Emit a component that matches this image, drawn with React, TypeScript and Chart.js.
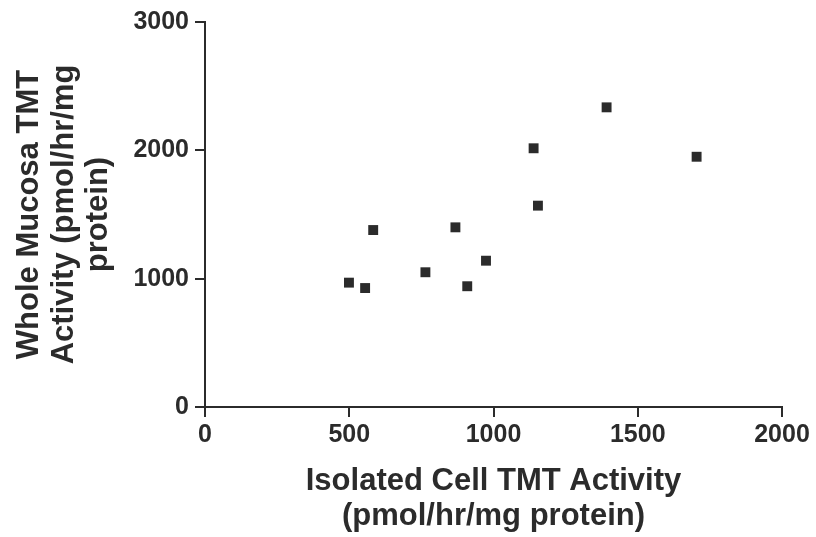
import React, { useEffect, useRef } from "react";
import { Chart, registerables } from "chart.js";

Chart.register(...registerables);

const isolatedCell: number[] = [499, 555, 583, 764, 868, 909, 974, 1139, 1154, 1392, 1704];
const wholeMucosa: number[] = [969, 927, 1379, 1050, 1400, 941, 1140, 2016, 1569, 2335, 1950];
const xTitle: string[] = ["Isolated Cell TMT Activity", "(pmol/hr/mg protein)"];
const yTitle: string[] = ["Whole Mucosa TMT", "Activity (pmol/hr/mg", "protein)"];

const INK = "#2b2b2b";
const FONT = "'Liberation Sans', Arial, sans-serif";

export default function App() {
  const ref = useRef<HTMLCanvasElement | null>(null);
  useEffect(() => {
    document.body.style.margin = "0";
    if (!ref.current) return;
    const chart = new Chart(ref.current, {
      type: "scatter",
      data: {
        datasets: [
          {
            data: isolatedCell.map((x, i) => ({ x, y: wholeMucosa[i] })),
            pointStyle: "rect",
            pointRadius: 7,
            backgroundColor: INK,
            borderColor: INK,
            borderWidth: 0,
          },
        ],
      },
      options: {
        animation: false,
        responsive: false,
        layout: { padding: { top: 22, right: 34, left: 0, bottom: 0 } },
        plugins: { legend: { display: false }, tooltip: { enabled: false } },
        scales: {
          x: {
            type: "linear",
            min: 0,
            max: 2000,
            ticks: {
              stepSize: 500,
              color: INK,
              padding: 3,
              font: { family: FONT, size: 25, weight: "bold" },
              callback: (v: any) => String(v),
            },
            grid: { display: true, drawOnChartArea: false, drawTicks: true, tickLength: 10, color: INK, lineWidth: 2 },
            border: { display: true, color: INK, width: 2 },
            title: {
              display: true,
              text: xTitle,
              color: INK,
              font: { family: FONT, size: 31, weight: "bold", lineHeight: 1.12 },
              padding: { top: 0, bottom: 3 },
            },
            afterFit: (s: any) => {
              s.height = 130;
            },
          },
          y: {
            type: "linear",
            min: 0,
            max: 3000,
            ticks: {
              stepSize: 1000,
              color: INK,
              padding: 6,
              font: { family: FONT, size: 25, weight: "bold" },
              callback: (v: any) => String(v),
            },
            grid: { display: true, drawOnChartArea: false, drawTicks: true, tickLength: 10, color: INK, lineWidth: 2 },
            border: { display: true, color: INK, width: 2 },
            title: {
              display: true,
              text: yTitle,
              color: INK,
              font: { family: FONT, size: 31, weight: "bold", lineHeight: 1.12 },
              padding: { top: 12, bottom: 0 },
            },
            afterFit: (s: any) => {
              s.width = 205;
            },
          },
        },
      },
    });
    return () => chart.destroy();
  }, []);
  return (
    <div style={{ width: 816, height: 537, background: "#fff" }}>
      <canvas ref={ref} width={816} height={537} style={{ display: "block" }} />
    </div>
  );
}
